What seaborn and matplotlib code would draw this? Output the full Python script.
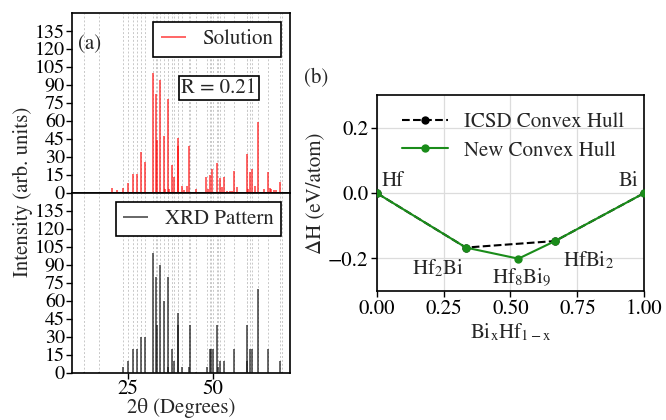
import matplotlib
matplotlib.use("Agg")
import matplotlib.pyplot as plt
import numpy as np
import pandas as pd
import seaborn as sns

# Measured XRD reflections: 2θ (degrees) and relative intensity
xrd_two_theta = [11.9, 16.6, 23.6, 25.0, 26.4, 27.6, 28.8, 30.1, 32.4, 33.35,
                 33.5, 34.4, 35.7, 36.7, 36.9, 37.9, 38.6, 39.6, 39.7, 40.8,
                 43.0, 43.2, 45.0, 48.4, 49.1, 49.5, 50.0, 51.2, 51.5, 52.1,
                 53.4, 56.3, 59.9, 60.1, 60.9, 61.5, 63.4, 66.2, 69.7, 70.3]
xrd_intensity = [0.5, 0.5, 5, 10, 20, 20, 30, 30, 100, 80,
                 40, 90, 60, 80, 5, 20, 10, 50, 40, 5,
                 5, 40, 1, 5, 20, 20, 20, 40, 5, 10,
                 10, 20, 40, 10, 20, 20, 70, 20, 10, 0.5]

# Simulated pattern of the solved structure
sol_two_theta = [20.2, 21.9, 23.6, 25.0, 26.4, 27.6, 28.8, 30.1, 32.4, 33.35,
                 33.5, 34.4, 35.7, 35.9, 36.7, 37.2, 37.9, 38.6, 39.6, 39.7,
                 40.8, 41.5, 42.3, 43.1, 45.0, 47.9, 48.6, 49.0, 49.7, 51.2,
                 52.0, 52.6, 53.4, 54.2, 54.9, 55.5, 56.3, 57.2, 59.9, 60.4,
                 60.9, 61.5, 62.4, 63.4, 65.0, 66.2, 66.8, 67.2, 68.0, 68.7,
                 69.7]
sol_intensity = [4, 2, 4, 8, 16, 16, 34, 26, 100, 82,
                 44, 94, 47, 3, 78, 3, 23, 13, 46, 39,
                 6, 2, 6, 39, 3, 13, 3, 15, 20, 25,
                 12, 5, 13, 1, 1, 1, 18, 5, 32, 3,
                 17, 20, 6, 59, 3, 17, 4, 3, 2, 2,
                 9]
r_factor = 0.21

intensity_ticks = [0, 15, 30, 45, 60, 75, 90, 105, 120, 135]
two_theta_ticks = [25, 50]

# Formation enthalpies for the Bi–Hf system
phases = ["Hf", "Hf$_2$Bi", "Hf$_8$Bi$_9$", "HfBi$_2$", "Bi"]
bi_fraction = [0.0, 1 / 3, 9 / 17, 2 / 3, 1.0]
delta_h = [0.0, -0.167, -0.201, -0.147, 0.0]
icsd_phases = ["Hf", "Hf$_2$Bi", "HfBi$_2$", "Bi"]

sns.set_theme(style="ticks")
plt.rcParams.update({
    "font.family": ["STIXGeneral", "DejaVu Serif"],
    "mathtext.fontset": "stix",
    "font.size": 15,
    "axes.linewidth": 1.2,
    "axes.edgecolor": "black",
    "xtick.color": "black",
    "ytick.color": "black",
    "xtick.major.size": 4,
    "ytick.major.size": 4,
    "xtick.major.width": 1.0,
    "ytick.major.width": 1.0,
    "legend.fontsize": 15,
})

fig = plt.figure(figsize=(6.66, 4.2), dpi=100)
ax_top = fig.add_axes([0.1081, 0.5412, 0.3273, 0.4279])
ax_bot = fig.add_axes([0.1081, 0.1126, 0.3273, 0.4286], sharex=ax_top)
ax_hull = fig.add_axes([0.5656, 0.3071, 0.4018, 0.4667])

# ---- (a) diffraction patterns ----
for ax in (ax_top, ax_bot):
    for pos in xrd_two_theta:
        ax.axvline(pos, color="#c8c8c8", lw=0.7, ls=(0, (2, 2)), zorder=0)
    ax.set_ylim(0, 150)
    ax.set_yticks(intensity_ticks)
    ax.tick_params(axis="y", labelsize=14.5, pad=1)
    for s in ax.spines.values():
        s.set_linewidth(1.2)

ax_top.vlines(sol_two_theta, 0, sol_intensity, colors="red", alpha=0.7,
              lw=1.2, label="Solution", zorder=3)
ax_bot.vlines(xrd_two_theta, 0, xrd_intensity, colors="#111111", alpha=0.75,
              lw=1.2, label="XRD Pattern", zorder=3)

ax_top.set_xlim(8.5, 72.7)
ax_bot.set_xticks(two_theta_ticks)
ax_top.tick_params(axis="x", bottom=False, labelbottom=False)
ax_bot.tick_params(axis="x", labelsize=15, pad=1)

leg_kw = dict(loc="upper right", fancybox=False, edgecolor="black",
              framealpha=1, handlelength=1.2, handletextpad=0.8,
              borderpad=0.35, borderaxespad=0.45)
lt = ax_top.legend(**leg_kw)
lb = ax_bot.legend(**leg_kw)
for leg in (lt, lb):
    leg.get_frame().set_linewidth(1.2)

ax_top.text(0.08, 0.827, "(a)", transform=ax_top.transAxes,
            ha="center", va="center", fontsize=15)
ax_top.text(0.674, 0.583, f"R = {r_factor}", transform=ax_top.transAxes,
            ha="center", va="center", fontsize=15,
            bbox=dict(boxstyle="square,pad=0.12", fc="white", ec="black", lw=1.2))

ax_bot.set_xlabel("2θ (Degrees)", fontsize=15, va="top")
ax_bot.xaxis.set_label_coords(0.5, -0.143)
fig.text(0.034, 0.542, "Intensity (arb. units)", rotation=90,
         ha="center", va="center", fontsize=15)

# ---- (b) convex hull ----
hull_df = pd.DataFrame({"phase": phases, "x": bi_fraction, "dH": delta_h})
icsd_df = hull_df[hull_df["phase"].isin(icsd_phases)]

ax_hull.grid(True, color="#dcdcdc", lw=0.9)
ax_hull.set_axisbelow(True)
sns.lineplot(data=icsd_df, x="x", y="dH", ax=ax_hull, sort=False,
             color="black", ls="--", lw=1.5, marker="o", markersize=6,
             markeredgewidth=0, label="ICSD Convex Hull", zorder=3)
sns.lineplot(data=hull_df, x="x", y="dH", ax=ax_hull, sort=False,
             color="#1a8c1a", lw=1.5, marker="o", markersize=6,
             markeredgewidth=0, label="New Convex Hull", zorder=4)

ax_hull.set_xlim(0, 1)
ax_hull.set_ylim(-0.3, 0.3)
ax_hull.set_xticks([0.0, 0.25, 0.5, 0.75, 1.0])
ax_hull.set_xticklabels(["0.00", "0.25", "0.50", "0.75", "1.00"])
ax_hull.set_yticks([-0.2, 0.0, 0.2])
ax_hull.set_yticklabels(["\u22120.2", "0.0", "0.2"])
ax_hull.tick_params(labelsize=15, pad=2)
for s in ax_hull.spines.values():
    s.set_linewidth(1.2)

ax_hull.set_xlabel("Bi$_\\mathrm{x}$Hf$_{1-\\mathrm{x}}$", fontsize=15, va="top")
ax_hull.xaxis.set_label_coords(0.5, -0.155)
ax_hull.set_ylabel("ΔH (eV/atom)", fontsize=15, va="center")
ax_hull.yaxis.set_label_coords(-0.23, 0.5)

ax_hull.legend(loc="upper left", bbox_to_anchor=(0.095, 0.91), frameon=False,
               borderpad=0, borderaxespad=0, handlelength=2.2,
               handletextpad=0.75, labelspacing=0.4, fontsize=15)

label_pos = {
    "Hf": (0.019, 0.02, "left"),
    "Hf$_2$Bi": (0.229, -0.248, "center"),
    "Hf$_8$Bi$_9$": (0.542, -0.274, "center"),
    "HfBi$_2$": (0.792, -0.223, "center"),
    "Bi": (0.978, 0.02, "right"),
}
for name, (lx, ly, ha) in label_pos.items():
    ax_hull.text(lx, ly, name, ha=ha, va="baseline", fontsize=15)

fig.text(0.475, 0.814, "(b)", ha="center", va="center", fontsize=15)

fig.savefig("out.png", dpi=100)
